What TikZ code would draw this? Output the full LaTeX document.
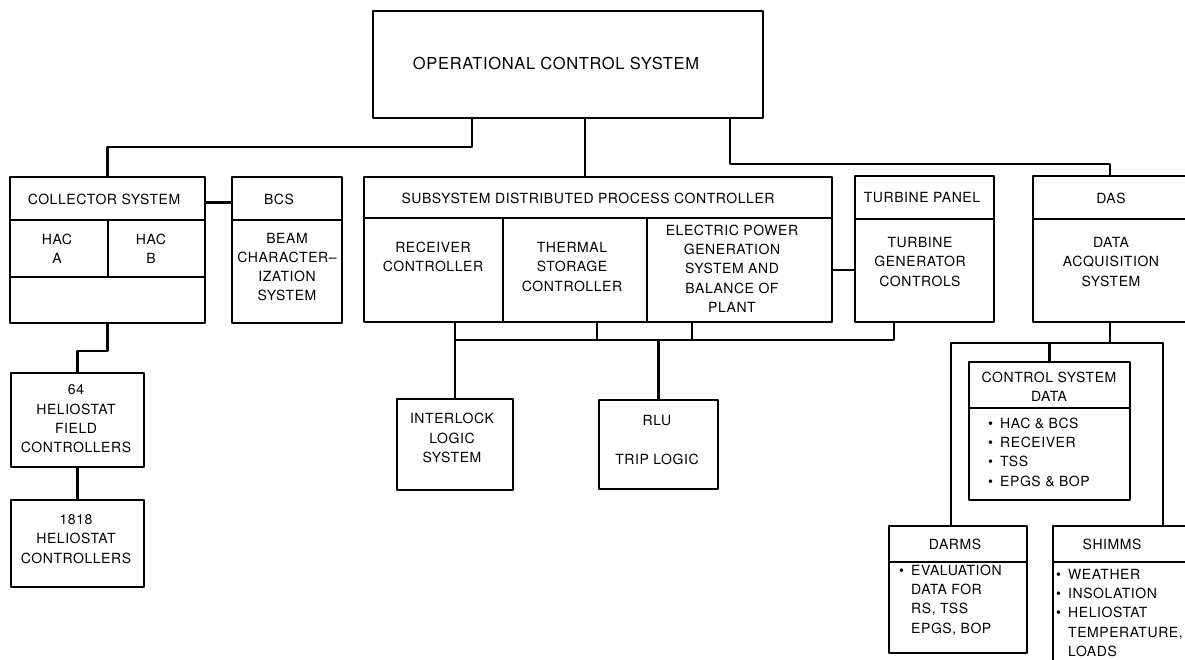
\documentclass[tikz,border=0pt]{standalone}
\usepackage{fontspec}
\setmainfont{TeX Gyre Heros}[LetterSpace=4.0]
\begin{document}
% one box of the chart: name, x1, y1, x2, y2 (y grows downward)
\newcommand\boxcell[5]{%
  \node[cellbox, minimum width={#4-#2}, minimum height={#5-#3}]
    (#1) at ({(#2+#4)/2},{(#3+#5)/2}) {};}
% bullet of the item lists
\newcommand\itm{\makebox[12pt][l]{\textbullet}}
\newcommand\itmgap{\hspace*{12pt}}
\begin{tikzpicture}[x=1pt, y=-1pt,
  cellbox/.style={draw, line width=2.8pt, line join=round, inner sep=0pt, outer sep=0pt},
  wire/.style={draw, line width=2.8pt, line join=round},
  lbl/.style={inner sep=0pt, align=center, font={\fontsize{14pt}{19.3pt}\selectfont}},
  lst/.style={inner sep=0pt, align=left, anchor=west, font={\fontsize{14pt}{19.3pt}\selectfont}},
  title/.style={inner sep=0pt, font={\fontsize{16.5pt}{20pt}\selectfont}}]
\useasboundingbox (0,0) rectangle (1185,660);
\fill[white] (0,0) rectangle (1185,660);
\clip (0,0) rectangle (1185,660);

% ---- boxes ----
\boxcell{ocs}{373}{11}{763}{118}
\boxcell{colhead}{10}{177}{205}{220}
\boxcell{haca}{10}{220}{108}{277}
\boxcell{hacb}{108}{220}{205}{277}
\boxcell{colfoot}{10}{277}{205}{323}
\boxcell{bcshead}{232}{177}{342}{220}
\boxcell{bcsbody}{232}{220}{342}{323}
\boxcell{sdpchead}{364}{177}{832}{218}
\boxcell{rcv}{364}{218}{503}{322}
\boxcell{tsc}{503}{218}{647}{322}
\boxcell{epgs}{647}{218}{832}{322}
\boxcell{tphead}{855}{176}{994}{219}
\boxcell{tpbody}{855}{219}{994}{322}
\boxcell{dashead}{1033}{176}{1205}{219}
\boxcell{dasbody}{1033}{219}{1205}{322}
\boxcell{fc64}{11}{373}{144}{467}
\boxcell{hc1818}{11}{500}{144}{587}
\boxcell{ils}{397}{399}{513}{490}
\boxcell{rlu}{599}{400}{718}{489}
\boxcell{csdhead}{969}{362}{1130}{408}
\boxcell{csdbody}{969}{408}{1130}{500}
\boxcell{darmshead}{889}{526}{1027}{562}
\boxcell{darmsbody}{889}{562}{1027}{653}
\boxcell{shimmshead}{1053}{526}{1205}{562}
\boxcell{shimmsbody}{1053}{562}{1205}{690}

% ---- texts ----
\node[title] (t-ocs) at (556,63) {OPERATIONAL CONTROL SYSTEM};
\node[lbl] (t-col) at (104,199) {COLLECTOR SYSTEM};
\node[lbl] (t-haca) at (57,249) {HAC\\A};
\node[lbl] (t-hacb) at (151,249) {HAC\\B};
\node[lbl] (t-bcs) at (279,199) {BCS};
\node[lbl] (t-bcsb) at (287,267) {BEAM\\CHARACTER--\\IZATION\\SYSTEM};
\node[lbl] (t-sdpc) at (588,198) {SUBSYSTEM DISTRIBUTED PROCESS CONTROLLER};
\node[lbl] (t-rcv) at (433,257) {RECEIVER\\CONTROLLER};
\node[lbl] (t-tsc) at (572,267) {THERMAL\\STORAGE\\CONTROLLER};
\node[lbl] (t-epgs) at (732,268.5) {ELECTRIC POWER\\GENERATION\\SYSTEM AND\\BALANCE OF\\PLANT};
\node[lbl] (t-tp) at (922,198) {TURBINE PANEL};
\node[lbl] (t-tpb) at (920,262) {TURBINE\\GENERATOR\\CONTROLS};
\node[lbl] (t-das) at (1111,198) {DAS};
\node[lbl] (t-dasb) at (1111,262) {DATA\\ACQUISITION\\SYSTEM};
\node[lbl] (t-fc64) at (76,419) {64\\HELIOSTAT\\FIELD\\CONTROLLERS};
\node[lbl] (t-hc) at (76,539) {1818\\HELIOSTAT\\CONTROLLERS};
\node[lbl] (t-ils) at (452,438) {INTERLOCK\\LOGIC\\SYSTEM};
\node[lbl] (t-rlu) at (657,440) {RLU\\[20pt]TRIP LOGIC};
\node[lbl] (t-csd) at (1049,386.5) {CONTROL SYSTEM\\DATA};
\node[lst] (t-csdl) at (988,452) {\itm HAC \& BCS\\\itm RECEIVER\\\itm TSS\\\itm EPGS \& BOP};
\node[lbl] (t-darms) at (955,544) {DARMS};
\node[lst] (t-darmsl) at (899,600) {\itm EVALUATION\\\itmgap DATA FOR\\\itmgap RS, TSS\\\itmgap EPGS, BOP};
\node[lbl] (t-shimms) at (1112,544) {SHIMMS};
\node[lst] (t-shimmsl) at (1056,613) {\itm WEATHER\\\itm INSOLATION\\\itm HELIOSTAT\\\itmgap TEMPERATURE,\\\itmgap LOADS};

% ---- connectors ----
\coordinate (b1) at (472,147);
\coordinate (b2) at (585,150);
\coordinate (b3) at (730,164);
\coordinate (b4) at (1110,164);
\path[wire] (ocs.south -| b1) -- (b1) -| (colhead.north);
\path[wire] (ocs.south -| b2) -- (sdpchead.north -| b2);
\path[wire] (ocs.south -| b3) -- (b3) -- (b4) -- (dashead.north -| b4);

\path[wire] ([yshift=-4pt]colhead.east) -- ([yshift=-4pt]bcshead.west);
\path[wire] (epgs.east) -- (tpbody.west |- epgs.east);

\coordinate (b5) at (77.5,351);
\path[wire] (colfoot.south) |- (b5) -- (fc64.north);
\path[wire] (fc64.south) -- (hc1818.north);

\coordinate (tpdrop) at (894,340);
\coordinate (d1) at (597,340);
\coordinate (d2) at (692,340);
\path[wire] (ils.north |- rcv.south) -- (ils.north);
\path[wire] (ils.north |- tpdrop) -- (tpdrop) -- (tpdrop |- tpbody.south);
\path[wire] (d1 |- tsc.south) -- (d1);
\path[wire] (d2 |- epgs.south) -- (d2);
\path[wire] (rlu.north |- tpdrop) -- (rlu.north);

\coordinate (r0) at (1110,343);
\coordinate (rl) at (951,343);
\coordinate (rr) at (1163,343);
\path[wire] (r0 |- dasbody.south) -- (r0);
\path[wire] (rl |- darmshead.north) -- (rl) -- (rr) -- (rr |- shimmshead.north);
\path[wire] (csdhead.north |- rl) -- (csdhead.north);
\end{tikzpicture}
\end{document}
